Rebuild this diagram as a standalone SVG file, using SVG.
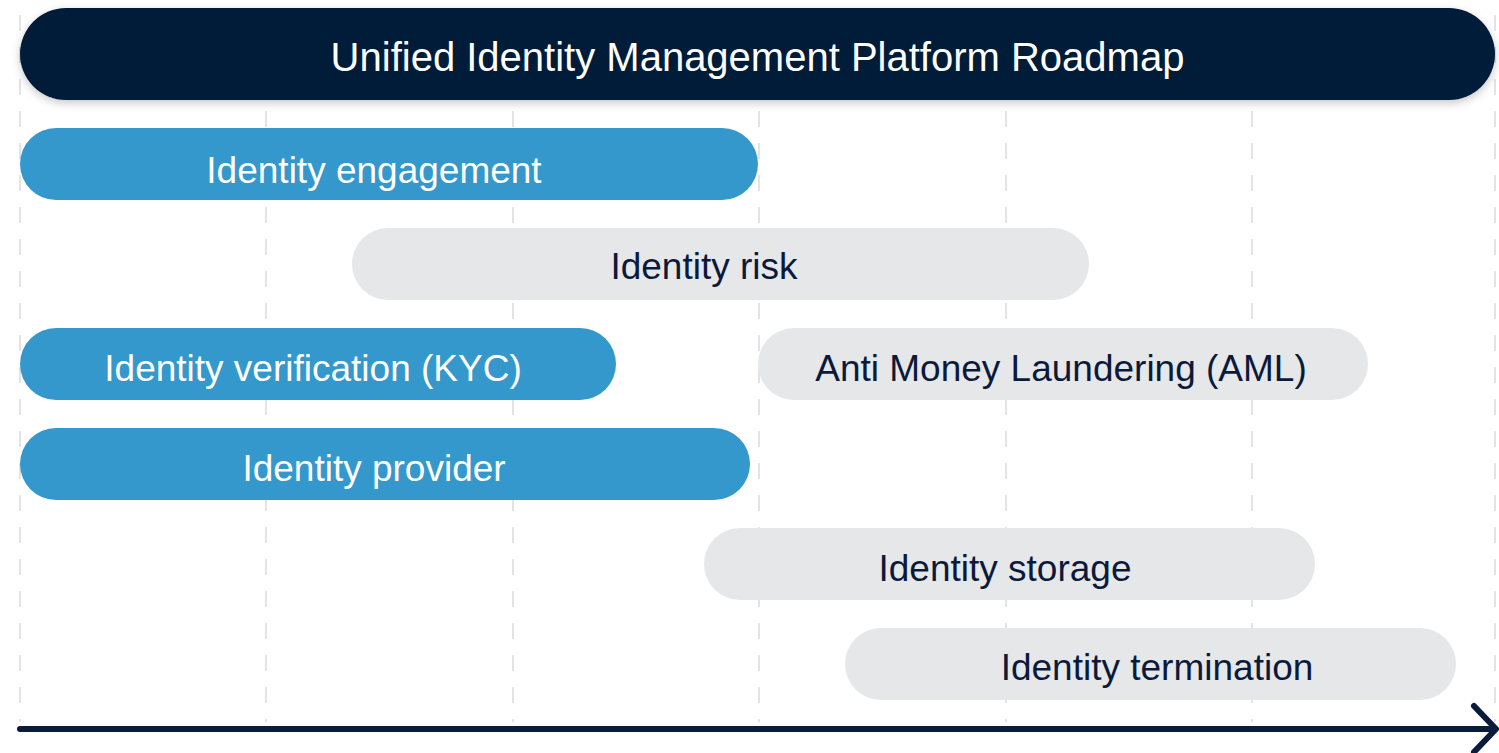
<svg xmlns="http://www.w3.org/2000/svg" width="1499" height="753" viewBox="0 0 1499 753">
<defs>
<filter id="sh" x="-5%" y="-30%" width="110%" height="170%">
<feDropShadow dx="0" dy="3" stdDeviation="4" flood-color="#000" flood-opacity="0.22"/>
</filter>
<style>
.grid{stroke:#dcdde2;stroke-width:1.6;stroke-dasharray:16 16;fill:none}
.blue{fill:#3598cc}
.gray{fill:#e6e7e9}
.tw{font-family:"Liberation Sans",Arial,sans-serif;font-size:37px;fill:#ffffff;text-anchor:middle}
.td{font-family:"Liberation Sans",Arial,sans-serif;font-size:37px;fill:#0b1a3a;text-anchor:middle}
.axis{stroke:#0a1c3c;stroke-width:6;stroke-linecap:round;stroke-linejoin:round;fill:none}
</style>
</defs>
<rect width="1499" height="753" fill="#ffffff"/>
<g id="grid">
<line class="grid" x1="20" y1="15" x2="20" y2="722"/>
<line class="grid" x1="266" y1="15" x2="266" y2="722"/>
<line class="grid" x1="513" y1="15" x2="513" y2="722"/>
<line class="grid" x1="759" y1="15" x2="759" y2="722"/>
<line class="grid" x1="1006" y1="15" x2="1006" y2="722"/>
<line class="grid" x1="1252" y1="15" x2="1252" y2="722"/>
<line class="grid" x1="1495" y1="15" x2="1495" y2="722"/>
</g>
<g id="title">
<rect x="20" y="8" width="1475" height="92" rx="46" fill="#061a38" filter="url(#sh)"/>
<text class="tw" x="757.5" y="71" style="font-size:40px">Unified Identity Management Platform Roadmap</text>
</g>
<g id="identity-engagement">
<rect class="blue" x="20" y="128" width="738" height="72" rx="36"/>
<text class="tw" x="374" y="183">Identity engagement</text>
</g>
<g id="identity-risk">
<rect class="gray" x="352" y="228" width="737" height="72" rx="36"/>
<text class="td" x="704" y="279">Identity risk</text>
</g>
<g id="identity-verification">
<rect class="blue" x="20" y="328" width="596" height="72" rx="36"/>
<text class="tw" x="313" y="381">Identity verification (KYC)</text>
</g>
<g id="aml">
<rect class="gray" x="758" y="328" width="610" height="72" rx="36"/>
<text class="td" x="1061" y="381">Anti Money Laundering (AML)</text>
</g>
<g id="identity-provider">
<rect class="blue" x="20" y="428" width="730" height="72" rx="36"/>
<text class="tw" x="374" y="481">Identity provider</text>
</g>
<g id="identity-storage">
<rect class="gray" x="704" y="528" width="611" height="72" rx="36"/>
<text class="td" x="1005" y="581">Identity storage</text>
</g>
<g id="identity-termination">
<rect class="gray" x="845" y="628" width="611" height="72" rx="36"/>
<text class="td" x="1157" y="680">Identity termination</text>
</g>
<g id="connectors">
<line class="axis" x1="20" y1="729" x2="1494" y2="729"/>
<polyline class="axis" points="1474,706 1496,729 1474,752"/>
</g>
</svg>
